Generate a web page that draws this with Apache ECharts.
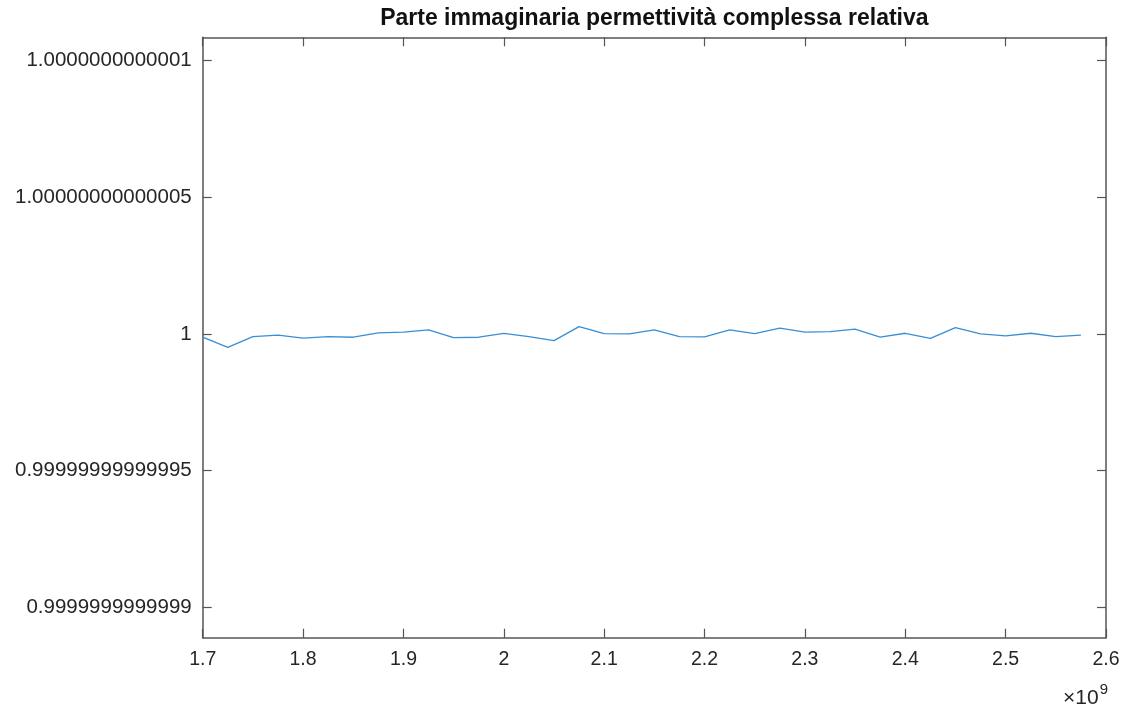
<!DOCTYPE html>
<html>
<head>
<meta charset="utf-8">
<script src="https://cdn.jsdelivr.net/npm/echarts@6/dist/echarts.min.js"></script>
<style>
  html, body { margin: 0; padding: 0; background: #fff; }
  #chart { width: 1131px; height: 709px; }
</style>
</head>
<body>
<div id="chart"></div>
<script>
// Frequency samples (units of 1e9 Hz)
const freq = [1.7, 1.725, 1.75, 1.775, 1.8, 1.825, 1.85, 1.875, 1.9, 1.925,
              1.95, 1.975, 2.0, 2.025, 2.05, 2.075, 2.1, 2.125, 2.15, 2.175,
              2.2, 2.225, 2.25, 2.275, 2.3, 2.325, 2.35, 2.375, 2.4, 2.425,
              2.45, 2.475, 2.5, 2.525, 2.55, 2.575];
// Imaginary part minus 1, in units of 1e-15
const epsImagDelta = [-1.2, -4.9, -1.0, -0.4, -1.5, -1.0, -1.2, 0.4, 0.7, 1.5,
                      -1.35, -1.2, 0.2, -1.0, -2.45, 2.7, 0.1, 0.0, 1.5, -1.0,
                      -1.1, 1.5, 0.1, 2.1, 0.7, 0.85, 1.8, -1.2, 0.25, -1.6,
                      2.3, 0.0, -0.7, 0.25, -1.0, -0.4];
// Y tick positions (units of 1e-15 from 1) and their labels
const yTickValues = [-100, -50, 0, 50, 100];
const yTickLabels = ['0.9999999999999', '0.99999999999995', '1', '1.00000000000005', '1.0000000000001'];
const titleText = 'Parte immaginaria permettività complessa relativa';

const FONT = '"Liberation Sans", Arial, Helvetica, sans-serif';
const AXIS_COLOR = '#555555';
const TEXT_COLOR = '#262626';

const chart = echarts.init(document.getElementById('chart'), null, { renderer: 'canvas' });

const gridLeft = 202.7, gridRight = 25, gridTop = 37.3, gridBottom = 71.3;
const plotCenterX = gridLeft + (1131 - gridLeft - gridRight) / 2;

const tickStyle = { show: true, inside: true, length: 9, lineStyle: { color: AXIS_COLOR, width: 1.2 } };

chart.setOption({
  animation: false,
  backgroundColor: '#ffffff',
  grid: { left: gridLeft, right: gridRight, top: gridTop, bottom: gridBottom, containLabel: false },
  xAxis: [
    {
      type: 'value', position: 'bottom', min: 1.7, max: 2.6, interval: 0.1,
      axisLine: { show: true, onZero: false, lineStyle: { color: AXIS_COLOR, width: 1.5 } },
      axisTick: tickStyle,
      splitLine: { show: false },
      axisLabel: {
        color: TEXT_COLOR, fontFamily: FONT, fontSize: 19.5, margin: 12,
        formatter: v => String(Math.round(v * 10) / 10)
      }
    },
    {
      type: 'value', position: 'top', min: 1.7, max: 2.6, interval: 0.1,
      axisLine: { show: true, onZero: false, lineStyle: { color: AXIS_COLOR, width: 1.5 } },
      axisTick: tickStyle,
      splitLine: { show: false },
      axisLabel: { show: false }
    }
  ],
  yAxis: [
    {
      type: 'value', position: 'left', min: -111.1, max: 108.5,
      axisLine: { show: true, onZero: false, lineStyle: { color: AXIS_COLOR, width: 1.5 } },
      axisTick: Object.assign({}, tickStyle, { customValues: yTickValues }),
      splitLine: { show: false },
      axisLabel: {
        color: TEXT_COLOR, fontFamily: FONT, fontSize: 20.5, margin: 11,
        customValues: yTickValues,
        formatter: v => yTickLabels[yTickValues.indexOf(Math.round(v))]
      }
    },
    {
      type: 'value', position: 'right', min: -111.1, max: 108.5,
      axisLine: { show: true, onZero: false, lineStyle: { color: AXIS_COLOR, width: 1.5 } },
      axisTick: Object.assign({}, tickStyle, { customValues: yTickValues }),
      splitLine: { show: false },
      axisLabel: { show: false }
    }
  ],
  series: [{
    type: 'line',
    xAxisIndex: 0, yAxisIndex: 0,
    data: freq.map((f, i) => [f, epsImagDelta[i]]),
    showSymbol: false,
    lineStyle: { color: '#3a8fd3', width: 1.3 },
    itemStyle: { color: '#3a8fd3' }
  }],
  graphic: [
    {
      type: 'text',
      x: plotCenterX, y: 7,
      style: {
        text: titleText, align: 'center', verticalAlign: 'top',
        font: 'bold 23px ' + FONT, fill: '#111111'
      }
    },
    {
      type: 'text',
      x: 1108, y: 681,
      style: {
        text: '{a|×10}{b|9}', align: 'right', verticalAlign: 'top',
        rich: {
          a: { fontFamily: FONT, fontSize: 21, fill: TEXT_COLOR, color: TEXT_COLOR, padding: [7, 0, 0, 0] },
          b: { fontFamily: FONT, fontSize: 15, fill: TEXT_COLOR, color: TEXT_COLOR, padding: [0, 0, 10, 1] }
        }
      }
    }
  ]
});
</script>
</body>
</html>
